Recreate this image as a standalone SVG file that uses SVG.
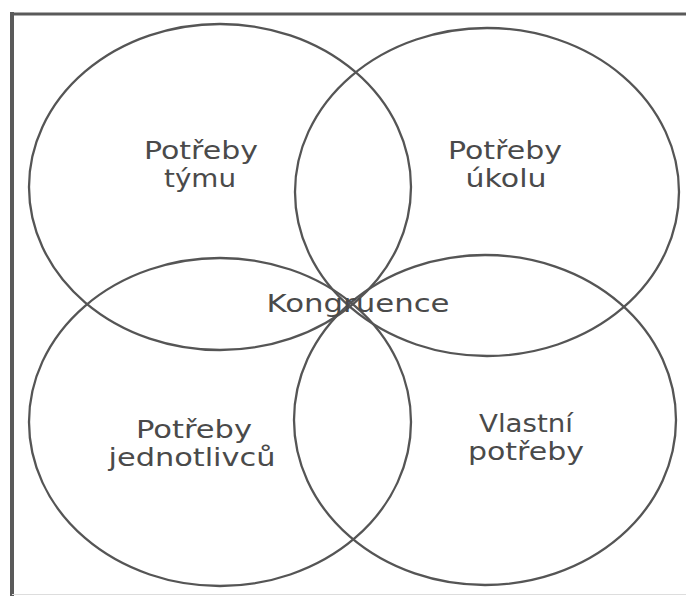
<svg xmlns="http://www.w3.org/2000/svg" width="686" height="596" viewBox="0 0 686 596">
<style>
.frame{fill:none;stroke:#5a5a5a;stroke-linecap:square}
.c{fill:none;stroke:#555;stroke-width:2.3}
.t{font-family:"DejaVu Sans","Liberation Sans",sans-serif;font-size:24px;fill:#4a4a4a;text-anchor:middle}
</style>
<rect width="686" height="596" fill="#fff"/>
<g id="frame">
<line class="frame" x1="12" y1="14" x2="686" y2="14" stroke-width="3"/>
<line class="frame" x1="12" y1="14" x2="12" y2="594" stroke-width="4"/>
<line x1="12" y1="594.5" x2="686" y2="594.5" stroke="#ddd" stroke-width="1"/>
</g>
<g id="connectors"></g>
<g id="team">
<ellipse class="c" cx="220" cy="187" rx="191" ry="163"/>
<text class="t" x="201" y="159" textLength="114" lengthAdjust="spacingAndGlyphs">Potřeby</text>
<text class="t" x="200" y="187" textLength="72" lengthAdjust="spacingAndGlyphs">týmu</text>
</g>
<g id="task">
<ellipse class="c" cx="487" cy="192" rx="192" ry="164"/>
<text class="t" x="505" y="159" textLength="114" lengthAdjust="spacingAndGlyphs">Potřeby</text>
<text class="t" x="506" y="187" textLength="81" lengthAdjust="spacingAndGlyphs">úkolu</text>
</g>
<g id="individuals">
<ellipse class="c" cx="220" cy="422" rx="191" ry="164"/>
<text class="t" x="194" y="438" textLength="116" lengthAdjust="spacingAndGlyphs">Potřeby</text>
<text class="t" x="192" y="466" textLength="167" lengthAdjust="spacingAndGlyphs">jednotlivců</text>
</g>
<g id="own">
<ellipse class="c" cx="485" cy="420" rx="191" ry="165"/>
<text class="t" x="526" y="432" textLength="94" lengthAdjust="spacingAndGlyphs">Vlastní</text>
<text class="t" x="526" y="460" textLength="116" lengthAdjust="spacingAndGlyphs">potřeby</text>
</g>
<g id="congruence">
<text class="t" x="358" y="312" font-size="25" textLength="183" lengthAdjust="spacingAndGlyphs">Kongruence</text>
</g>
</svg>
